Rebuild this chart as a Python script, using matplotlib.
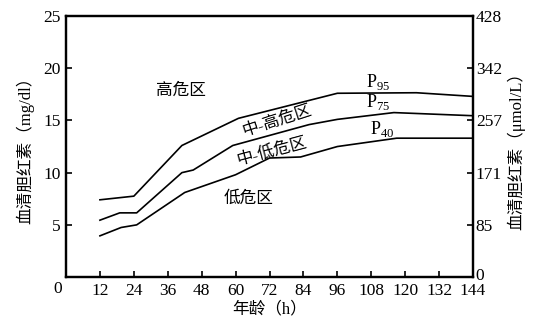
import numpy as np
import matplotlib
matplotlib.use('Agg')
import matplotlib.pyplot as plt
import matplotlib.transforms as mtransforms

plt.rcParams['font.family'] = ['Liberation Serif', 'Noto Sans CJK SC']
plt.rcParams['mathtext.fontset'] = 'custom'
plt.rcParams['mathtext.rm'] = 'Liberation Serif'

# percentile curves (hours, mg/dl)
p95_x = [12, 24, 41, 61, 96, 124, 144]
p95_y = [7.4, 7.75, 12.6, 15.2, 17.6, 17.65, 17.3]
p75_x = [12, 19, 25, 41, 45, 59, 86, 96, 116, 144]
p75_y = [5.45, 6.15, 6.15, 10.0, 10.25, 12.6, 14.6, 15.1, 15.75, 15.45]
p40_x = [12, 19.5, 25, 42, 60, 72, 83, 96, 117, 144]
p40_y = [3.95, 4.75, 5.0, 8.1, 9.8, 11.4, 11.5, 12.5, 13.3, 13.3]

x_ticks = [12, 24, 36, 48, 60, 72, 84, 96, 108, 120, 132, 144]
y_ticks = [5, 10, 15, 20, 25]
umol_labels = ['0', '85', '171', '257', '342', '428']

fig = plt.figure(figsize=(5.38, 3.26), dpi=100)
ax = fig.add_axes([0.1227, 0.150, 0.7565, 0.801])

for xs, ys in [(p95_x, p95_y), (p75_x, p75_y), (p40_x, p40_y)]:
    ax.plot(xs, ys, color='black', lw=1.2)

ax.set_xlim(0, 144)
ax.set_ylim(0, 25)
ax.set_xticks(x_ticks)
ax.set_yticks(y_ticks)
ax.tick_params(direction='in', length=4, width=1.2, labelsize=12.5, pad=4)
for s in ax.spines.values():
    s.set_linewidth(1.6)
ax.text(-3, -1.15, '0', ha='center', va='center', fontsize=12.5,
        transform=ax.transData, clip_on=False)

ax2 = ax.twinx()
ax2.set_ylim(0, 25)
ax2.set_yticks([0] + y_ticks)
ax2.set_yticklabels(umol_labels)
ax2.tick_params(direction='in', length=4, width=1.2, labelsize=12.5, pad=2)
zero_lbl = ax2.get_yticklabels()[0]
zero_lbl.set_transform(zero_lbl.get_transform() +
                       mtransforms.ScaledTranslation(0, 3 / 100, fig.dpi_scale_trans))
for s in ax2.spines.values():
    s.set_linewidth(1.6)

ax.set_ylabel('血清胆红素（mg/dl）', fontsize=12, labelpad=6)
ax2.set_ylabel('血清胆红素（μmol/L）', fontsize=12, rotation=90, labelpad=4)
ax.set_xlabel('年龄（h）', fontsize=12, labelpad=2)

ax.text(40.8, 17.8, '高危区', fontsize=12, ha='center', va='center')
ax.text(74.6, 15.0, '中-高危区', fontsize=12, ha='center', va='center', rotation=18)
ax.text(72.7, 12.0, '中-低危区', fontsize=12, ha='center', va='center', rotation=15)
ax.text(64.5, 7.5, '低危区', fontsize=12, ha='center', va='center')
ax.text(110.5, 18.7, r'P$_{\mathregular{95}}$', fontsize=13, ha='center', va='center')
ax.text(110.5, 16.8, r'P$_{\mathregular{75}}$', fontsize=13, ha='center', va='center')
ax.text(111.7, 14.2, r'P$_{\mathregular{40}}$', fontsize=13, ha='center', va='center')

fig.savefig('out.png', dpi=100)
